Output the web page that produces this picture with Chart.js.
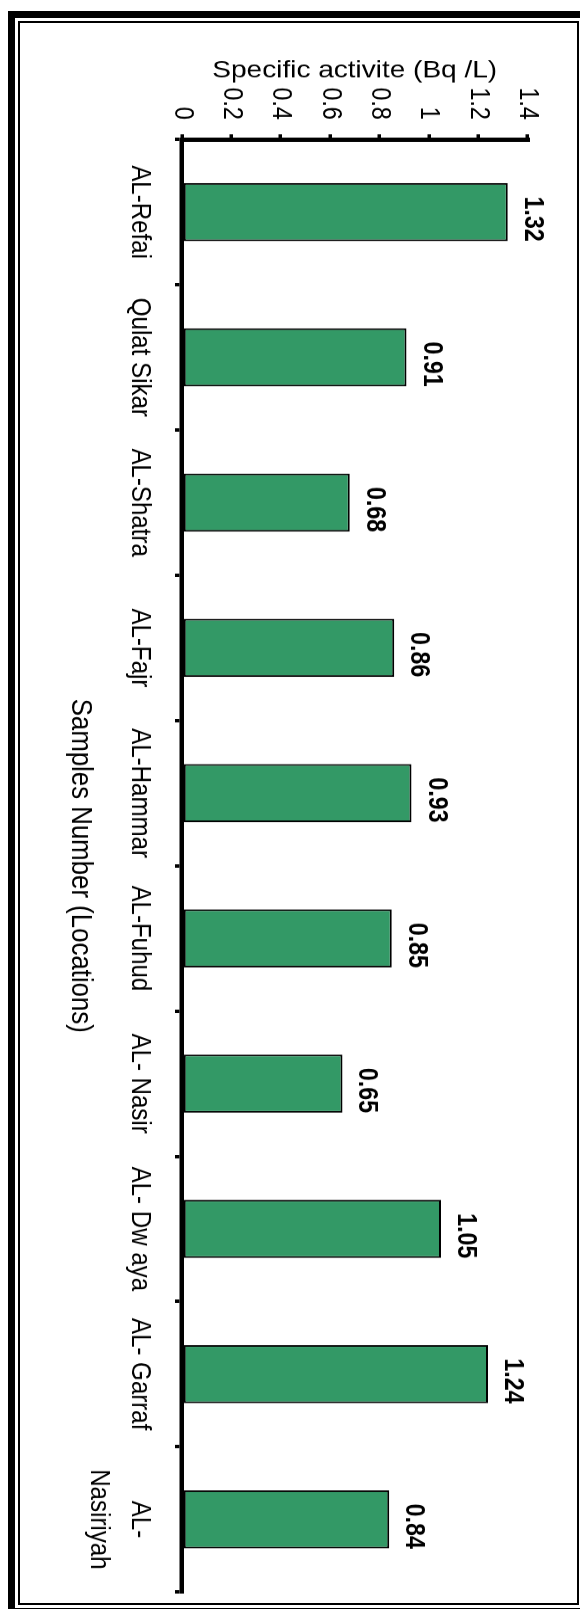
<!DOCTYPE html>
<html>
<head>
<meta charset="utf-8">
<title>Specific activity by location</title>
<script src="https://cdn.jsdelivr.net/npm/chart.js@4.4.0/dist/chart.umd.min.js"></script>
<style>
  html, body { margin: 0; padding: 0; background: #fff; }
  body { width: 580px; height: 1609px; position: relative; overflow: hidden; }
  .frame-outer { position: absolute; left: 8px; top: 11px; width: 580px; height: 1604px; border: 7px solid #000; box-sizing: border-box; }
  .frame-inner { position: absolute; left: 18px; top: 21px; width: 561px; height: 1584px; border: 2px solid #000; box-sizing: border-box; }
  #activityChart { position: absolute; left: 0; top: 0; transform-origin: 0 0; }
</style>
</head>
<body>
<div class="frame-outer"></div>
<div class="frame-inner"></div>
<canvas id="activityChart"></canvas>
<script>
const locations = ["AL-Refai", "Qulat Sikar", "AL-Shatra", "AL-Fajr", "AL-Hammar",
  "AL-Fuhud", "AL- Nasir", "AL- Dw aya", "AL- Garraf", ["AL-", "Nasiriyah"]];
const activity = [1.32, 0.91, 0.68, 0.86, 0.93, 0.85, 0.65, 1.05, 1.24, 0.84];
const activityTicks = [0, 0.2, 0.4, 0.6, 0.8, 1, 1.2, 1.4];

// chart is laid out as a column chart, then turned a quarter turn clockwise
// and narrowed along the category direction
const squeeze = 0.86;
const canvas = document.getElementById("activityChart");
canvas.width = Math.round(1609 / squeeze);
canvas.height = 580;
canvas.style.transform = `translateX(580px) rotate(90deg) scaleX(${squeeze})`;

Chart.defaults.font.family = "'Liberation Sans', Arial, sans-serif";
Chart.defaults.color = "#000";

// value printed just past the end of each bar
const barValueLabels = {
  id: "barValueLabels",
  afterDatasetsDraw(chart) {
    const c = chart.ctx;
    c.save();
    c.font = "bold 27px 'Liberation Sans', Arial, sans-serif";
    c.fillStyle = "#000";
    c.textAlign = "center";
    c.textBaseline = "alphabetic";
    chart.getDatasetMeta(0).data.forEach((bar, i) => {
      c.fillText(activity[i].toFixed(2), bar.x + 8, bar.y - 17);
    });
    c.restore();
  }
};

new Chart(canvas, {
  type: "bar",
  data: {
    labels: locations,
    datasets: [{
      data: activity,
      backgroundColor: "#339966",
      borderColor: "#000",
      borderWidth: 2,
      borderSkipped: false,
      barPercentage: 0.4,
      categoryPercentage: 1
    }]
  },
  options: {
    responsive: false,
    devicePixelRatio: 1,
    animation: false,
    layout: { padding: { top: 52.5, right: 19.8, bottom: 0, left: 0 } },
    plugins: {
      legend: { display: false },
      tooltip: { enabled: false }
    },
    scales: {
      x: {
        offset: true,
        grid: { offset: true, drawOnChartArea: false, tickLength: 7, lineWidth: 4, color: "#000" },
        border: { color: "#000", width: 4.5, z: 1 },
        ticks: { font: { size: 28, lineHeight: 1.45 }, padding: 15, maxRotation: 0, autoSkip: false },
        title: {
          display: true,
          text: "Samples Number (Locations)",
          font: { size: 30 },
          padding: { top: 0, bottom: 62 }
        },
        afterFit: axis => { axis.height = 182; }
      },
      y: {
        min: activityTicks[0],
        max: activityTicks[activityTicks.length - 1],
        grid: { drawOnChartArea: false, tickLength: 6, lineWidth: 3.5, color: "#000" },
        border: { color: "#000", width: 5, z: 1 },
        ticks: { font: { size: 27 }, padding: 17, callback: v => String(v) },
        afterBuildTicks: axis => { axis.ticks = activityTicks.map(v => ({ value: v })); },
        title: {
          display: true,
          text: "Specific activite (Bq /L)",
          font: { size: 28 },
          padding: { top: 65, bottom: 0 }
        },
        afterFit: axis => { axis.width = 162.2; }
      }
    }
  },
  plugins: [barValueLabels]
});
</script>
</body>
</html>
